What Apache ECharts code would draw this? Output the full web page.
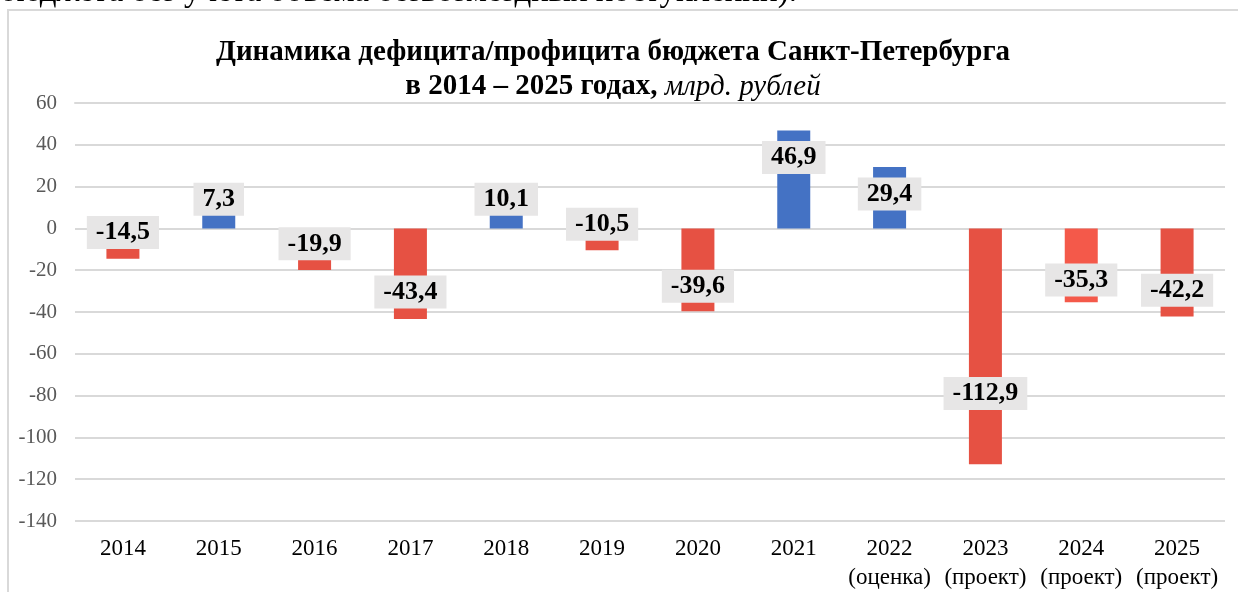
<!DOCTYPE html>
<html>
<head>
<meta charset="utf-8">
<script src="https://cdn.jsdelivr.net/npm/echarts@6/dist/echarts.min.js"></script>
<style>
  html, body { margin: 0; padding: 0; background: #fff; }
  #main { width: 1238px; height: 592px; }
</style>
</head>
<body>
<div id="main"></div>
<script>
// годы и подписи оси X
var years = ['2014', '2015', '2016', '2017', '2018', '2019', '2020', '2021',
             '2022\n(оценка)', '2023\n(проект)', '2024\n(проект)', '2025\n(проект)'];
// дефицит(-)/профицит(+), млрд. рублей
var balance = [-14.5, 7.3, -19.9, -43.4, 10.1, -10.5, -39.6, 46.9, 29.4, -112.9, -35.3, -42.2];
var yTicks = { min: -140, max: 60, step: 20 };

var serif = '"Liberation Serif", "Times New Roman", serif';
var blue = '#4472C4', red = '#E65143', redLight = '#F4594A';

var myChart = echarts.init(document.getElementById('main'));

// где ставить подпись (в единицах оси) - примерно как в исходнике
function labelAt(v) {
    if (v > 0) return v < 15 ? 14 : v - 13;
    if (v > -21) return v + 12.5;
    return v * 0.7;
}

function fmt(v) {
    return v.toFixed(1).replace('.', ',');
}

var option = {
    animation: false,
    title: {
        text: '{b|Динамика дефицита/профицита бюджета Санкт-Петербурга}\n{b|в 2014 – 2025 годах, }{i|млрд. рублей}',
        left: 608,
        top: 31,
        textAlign: 'center',
        textStyle: {
            rich: {
                b: { fontFamily: serif, fontSize: 29, fontWeight: 'bold', color: '#000', lineHeight: 34 },
                i: { fontFamily: serif, fontSize: 29, fontWeight: 'normal', fontStyle: 'italic', color: '#000', lineHeight: 34 }
            }
        }
    },
    graphic: [
        {
            type: 'text', left: 0, top: -24, silent: true,
            style: { text: 'бюджета без учета объема безвозмездных поступлений).', font: '33px ' + serif, fill: '#000' }
        },
        {
            type: 'rect', silent: true,
            shape: { x: 8, y: 10, width: 1260, height: 620 },
            style: { fill: 'none', stroke: '#D9D9D9', lineWidth: 2 }
        }
    ],
    grid: { left: 75, right: 13, top: 103, bottom: 70 },
    xAxis: [
        {
            type: 'category', data: years, position: 'bottom',
            axisLine: { show: false }, axisTick: { show: false },
            axisLabel: { fontFamily: serif, fontSize: 23, color: '#000', lineHeight: 29, margin: 13, interval: 0 }
        },
        {
            type: 'category', data: years, position: 'top', z: 5,
            axisLine: { onZero: true, lineStyle: { color: '#D9D9D9', width: 2 } },
            axisTick: { inside: true, length: 7, lineStyle: { color: '#D9D9D9', width: 2 } },
            axisLabel: { show: false }
        },
        {
            type: 'category', data: years, position: 'top', z: 5,
            axisLine: { onZero: true, show: false },
            axisTick: { alignWithLabel: true, length: 6, lineStyle: { color: '#D9D9D9', width: 2 } },
            axisLabel: { show: false }
        }
    ],
    yAxis: {
        type: 'value', min: yTicks.min, max: yTicks.max, interval: yTicks.step,
        axisLine: { show: false }, axisTick: { show: false },
        splitLine: { lineStyle: { color: '#D9D9D9', width: 2 } },
        axisLabel: { fontFamily: serif, fontSize: 21, color: '#595959', margin: 18 }
    },
    series: [{
        type: 'bar',
        xAxisIndex: 0,
        barWidth: 33,
        data: balance,
        itemStyle: {
            color: function (p) {
                if (p.value >= 0) return blue;
                return years[p.dataIndex].indexOf('2024') === 0 ? redLight : red;
            }
        },
        label: {
            show: true,
            position: 'inside',
            formatter: function (p) { return fmt(p.value); },
            fontFamily: serif, fontSize: 26, fontWeight: 'bold', color: '#000',
            backgroundColor: '#E7E6E6',
            padding: [4, 9, 3, 9]
        }
    }]
};

myChart.setOption(option);

// сдвигаем подписи через шкалу оси
var items = balance.map(function (v) {
    var mid = myChart.convertToPixel({ yAxisIndex: 0 }, v / 2);
    var target = myChart.convertToPixel({ yAxisIndex: 0 }, labelAt(v));
    return { value: v, label: { offset: [0, target - mid] } };
});
myChart.setOption({ series: [{ data: items }] });
</script>
</body>
</html>
